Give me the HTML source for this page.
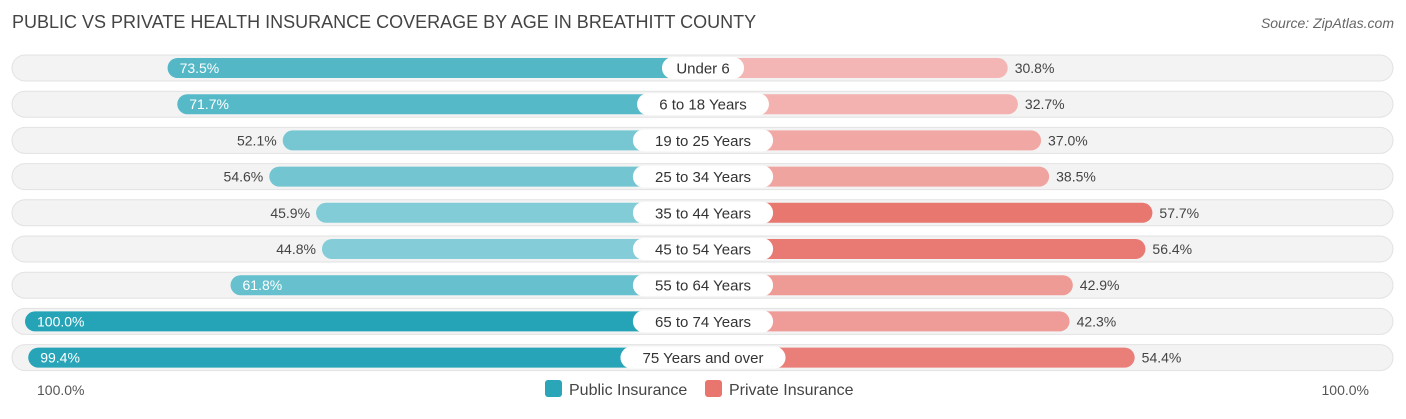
<!DOCTYPE html>
<html><head><meta charset="utf-8"><style>
body{margin:0;background:#fff;font-family:"Liberation Sans",sans-serif;}
</style></head><body>
<svg id="chart" width="1406" height="414" xmlns="http://www.w3.org/2000/svg" font-family="Liberation Sans, sans-serif">
<text x="12" y="28" font-size="18" fill="#444">PUBLIC VS PRIVATE HEALTH INSURANCE COVERAGE BY AGE IN BREATHITT COUNTY</text>
<text x="1394" y="28" font-size="14" fill="#666" text-anchor="end" font-style="italic">Source: ZipAtlas.com</text>
<g id="rows"></g>
<text x="37" y="395" font-size="14" fill="#555">100.0%</text>
<text x="1369" y="395" font-size="14" fill="#555" text-anchor="end">100.0%</text>
<g>
<rect x="545" y="380" width="17" height="17" rx="3" fill="#2aa6b8"/>
<text x="569" y="395" font-size="16" fill="#444">Public Insurance</text>
<rect x="705" y="380" width="17" height="17" rx="3" fill="#e8766f"/>
<text x="729" y="395" font-size="16" fill="#444">Private Insurance</text>
</g>
</svg>
<script>
const categories=["Under 6","6 to 18 Years","19 to 25 Years","25 to 34 Years","35 to 44 Years","45 to 54 Years","55 to 64 Years","65 to 74 Years","75 Years and over"];
const publicValues=[73.5,71.7,52.1,54.6,45.9,44.8,61.8,100.0,99.4];
const privateValues=[30.8,32.7,37.0,38.5,57.7,56.4,42.9,42.3,54.4];
const NS="http://www.w3.org/2000/svg";
const cx=703,leftZero=563,rightZero=842,pxPer=5.38;
const y0=68,step=36.2;
function xL(v){return leftZero-v*pxPer;}
function xR(v){return rightZero+v*pxPer;}
function mix(a,b,t){return 'rgb('+a.map((c,i)=>Math.round(c+(b[i]-c)*t)).join(',')+')';}
const g=document.getElementById('rows');
function mk(tag,attrs){const e=document.createElementNS(NS,tag);for(const k in attrs)e.setAttribute(k,attrs[k]);return e;}
categories.forEach((cat,i)=>{
  const y=y0+i*step;
  const row=mk('g',{});
  
  
  const bg=mk('rect',{x:12,y:y-13,width:1381,height:26,rx:13,fill:'#f3f3f3',stroke:'#e2e2e2'});
  
  
  row.appendChild(bg);
  const pv=publicValues[i],rv=privateValues[i];
  const tP=Math.min(1,Math.max(0,(pv-40)/60));
  const pb=mk('rect',{x:xL(pv),y:y-10,width:cx-xL(pv),height:20,rx:10,fill:mix([140,208,218],[38,164,183],tP)});
  
  
  row.appendChild(pb);
  const tR=Math.min(1,Math.max(0,(rv-30)/28));
  const rb=mk('rect',{x:cx,y:y-10,width:xR(rv)-cx,height:20,rx:10,fill:mix([244,184,182],[232,118,111],tR)});
  
  
  row.appendChild(rb);
  const inside=pv>=60;
  const pl=mk('text',{x:inside?xL(pv)+12:xL(pv)-6,y:y+5,'font-size':14,fill:inside?'#fff':'#444','text-anchor':inside?'start':'end'});
  pl.textContent=pv.toFixed(1)+'%';
  
  
  row.appendChild(pl);
  const rl=mk('text',{x:xR(rv)+7,y:y+5,'font-size':14,fill:'#444'});
  rl.textContent=rv.toFixed(1)+'%';
  
  
  row.appendChild(rl);
  const w=cat.length*8.3+24;
  const lb=mk('rect',{x:cx-w/2,y:y-11,width:w,height:22,rx:11,fill:'#fff'});
  
  
  row.appendChild(lb);
  const lt=mk('text',{x:cx,y:y+5.5,'font-size':15,fill:'#333','text-anchor':'middle'});
  lt.textContent=cat;
  
  
  row.appendChild(lt);
  g.appendChild(row);
});
</script>
</body></html>
